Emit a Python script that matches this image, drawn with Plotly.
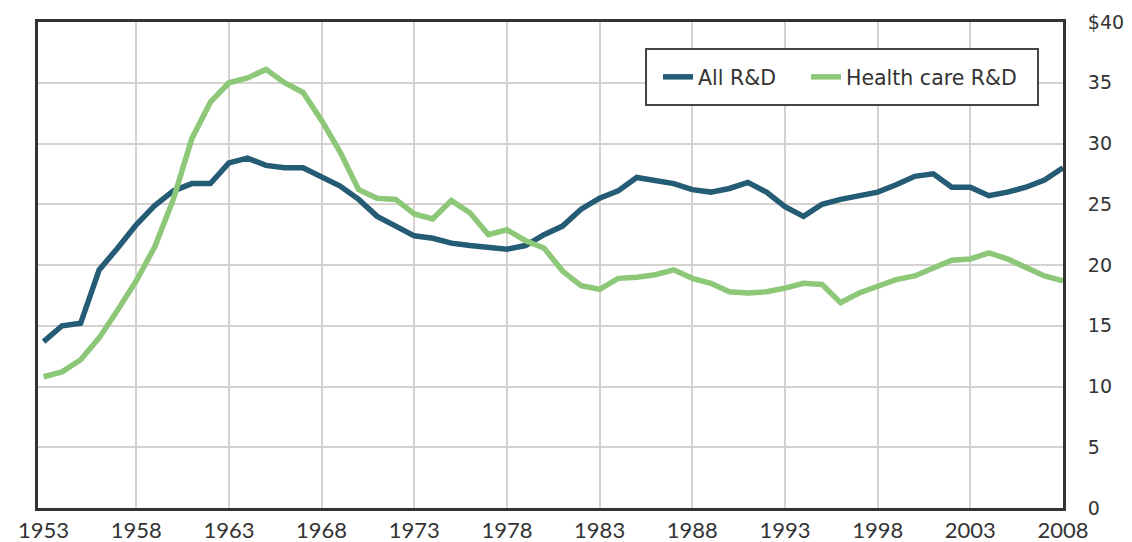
import plotly.graph_objects as go

years = list(range(1953, 2009))

all_rd = [13.7, 15.0, 15.2, 19.6, 21.4, 23.3, 24.9, 26.1, 26.7, 26.7,
          28.4, 28.8, 28.2, 28.0, 28.0, 27.2, 26.5, 25.4, 24.0, 23.2,
          22.4, 22.2, 21.8, 21.6, 21.4, 21.3, 21.6, 22.5, 23.2, 24.6,
          25.5, 26.1, 27.2, 26.9, 26.7, 26.2, 26.0, 26.3, 26.8, 26.0,
          24.8, 24.0, 25.0, 25.4, 25.7, 26.0, 26.6, 27.3, 27.5, 26.4,
          26.4, 25.7, 26.0, 26.4, 27.0, 28.0]

health_rd = [10.8, 11.2, 12.2, 14.0, 16.3, 18.7, 21.5, 25.4, 30.4, 33.4,
             35.0, 35.4, 36.1, 35.0, 34.2, 31.9, 29.3, 26.2, 25.5, 25.4,
             24.2, 23.8, 25.3, 24.3, 22.5, 22.9, 22.0, 21.4, 19.5, 18.3,
             18.0, 18.9, 19.0, 19.2, 19.6, 18.9, 18.5, 17.8, 17.7, 17.8,
             18.1, 18.5, 18.4, 16.9, 17.7, 18.3, 18.8, 19.1, 19.8, 20.4,
             20.5, 21.0, 20.5, 19.8, 19.1, 18.7]

x_ticks = list(range(1953, 2009, 5))
x_grid = list(range(1958, 2008, 5))
y_ticks = [0, 5, 10, 15, 20, 25, 30, 35, 40]
y_labels = ["0", "5", "10", "15", "20", "25", "30", "35", "$40"]
y_grid = [5, 10, 15, 20, 25, 30, 35]

DARK = "#245b75"
GREEN = "#8cc878"
GRID = "#d6d2cf"
BORDER = "#333333"
LEG_FONT = dict(family="DejaVu Sans", size=20.5, color="#333333")

fig = go.Figure()
fig.add_trace(go.Scatter(x=years, y=all_rd, mode="lines", name="All R&D",
                         line=dict(color=DARK, width=5.5), legend="legend"))
fig.add_trace(go.Scatter(x=years, y=health_rd, mode="lines", name="Health care R&D",
                         line=dict(color=GREEN, width=5.5), legend="legend2"))

# legend frame (decoration)
fig.add_shape(type="rect", xref="paper", yref="paper",
              x0=0.5932, x1=0.9756, y0=0.8292, y1=0.9444,
              line=dict(color="#444444", width=2), fillcolor="white",
              layer="above")

fig.update_layout(
    width=1124, height=534,
    margin=dict(l=30, r=69, t=14, b=34),
    paper_bgcolor="white", plot_bgcolor="white",
    showlegend=True,
    legend=dict(
        orientation="h", x=0.6049, y=0.8868, xanchor="left", yanchor="middle",
        borderwidth=0, bgcolor="rgba(0,0,0,0)", font=LEG_FONT, itemwidth=30,
    ),
    legend2=dict(
        orientation="h", x=0.7493, y=0.8868, xanchor="left", yanchor="middle",
        borderwidth=0, bgcolor="rgba(0,0,0,0)", font=LEG_FONT, itemwidth=30,
    ),
    xaxis=dict(
        range=[1952.7, 2008.0], automargin=False,
        tickmode="array", tickvals=x_ticks,
        ticktext=[str(v) for v in x_ticks],
        showgrid=False,
        minor=dict(tickmode="array", tickvals=x_grid, showgrid=True,
                   gridcolor=GRID, gridwidth=2, ticks=""),
        showline=True, linecolor=BORDER, linewidth=3, mirror=True,
        ticks="", ticklabelstandoff=1,
        tickfont=dict(family="Lato", size=22, color="#333333"),
        zeroline=False,
    ),
    yaxis=dict(
        range=[0, 40], side="right", automargin=False,
        tickmode="array", tickvals=y_ticks, ticktext=y_labels,
        showgrid=False,
        minor=dict(tickmode="array", tickvals=y_grid, showgrid=True,
                   gridcolor=GRID, gridwidth=2, ticks=""),
        showline=True, linecolor=BORDER, linewidth=3, mirror=True,
        ticks="", ticklabelstandoff=18,
        tickfont=dict(family="DejaVu Sans", size=19, color="#333333"),
        zeroline=False,
    ),
)

fig.write_html("out.html")
